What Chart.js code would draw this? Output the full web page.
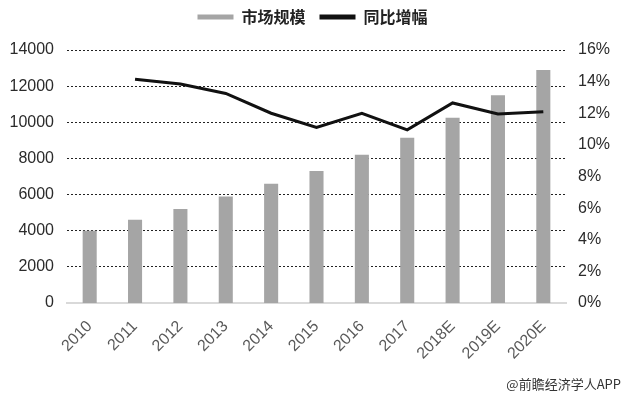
<!DOCTYPE html>
<html>
<head>
<meta charset="utf-8">
<script src="https://cdn.jsdelivr.net/npm/chart.js@4"></script>
<style>
  body { margin: 0; background: #fff; }
  #wrap { width: 625px; height: 395px; position: relative; }
</style>
</head>
<body>
<div id="wrap"><canvas id="myChart"></canvas></div>
<script>
// data
var years = ['2010', '2011', '2012', '2013', '2014', '2015', '2016', '2017', '2018E', '2019E', '2020E'];
var marketSize = [4000, 4600, 5200, 5900, 6600, 7300, 8200, 9150, 10250, 11500, 12900];
var yoyGrowth = [null, 14.15, 13.85, 13.25, 12.0, 11.1, 12.0, 10.95, 12.65, 11.95, 12.1];
var leftTicks = [0, 14000, 2000];
var rightTicks = [0, 16, 2];

var tickFont = { family: 'Liberation Sans, Arial, sans-serif', size: 16 };

// watermark
var sourceNote = {
  id: 'sourceNote',
  afterDraw: function(chart) {
    var c = chart.ctx;
    c.save();
    c.font = '13px "Noto Sans CJK SC", sans-serif';
    c.fillStyle = '#333';
    c.textAlign = 'right';
    c.textBaseline = 'alphabetic';
    c.fillText('@前瞻经济学人APP', 621, 389);
    c.restore();
  }
};

// more room under the legend
var legendGap = {
  id: 'legendGap',
  beforeInit: function(chart) {
    var fit = chart.legend.fit;
    chart.legend.fit = function() {
      fit.bind(chart.legend)();
      this.height += 15;
    };
  }
};

var ctx = document.getElementById('myChart').getContext('2d');
var myChart = new Chart(ctx, {
  type: 'bar',
  data: {
    labels: years,
    datasets: [{
      label: '市场规模',
      data: marketSize,
      backgroundColor: '#a5a5a5',
      barPercentage: 0.31,
      categoryPercentage: 1,
      yAxisID: 'y',
      order: 1
    }, {
      type: 'line',
      label: '同比增幅',
      data: yoyGrowth,
      borderColor: '#111',
      backgroundColor: '#111',
      borderWidth: 3,
      pointRadius: 0,
      tension: 0,
      yAxisID: 'y1',
      order: 0
    }]
  },
  options: {
    responsive: true,
    maintainAspectRatio: false,
    animation: false,
    layout: { padding: { top: -5, left: 0, right: 0, bottom: 0 } },
    plugins: {
      tooltip: { enabled: false },
      legend: {
        position: 'top',
        labels: {
          boxWidth: 36,
          boxHeight: 5,
          padding: 14,
          color: '#222',
          font: { family: '"Noto Sans CJK SC", sans-serif', size: 16, weight: 'bold' },
          sort: function(a, b) { return a.datasetIndex - b.datasetIndex; },
          generateLabels: function(chart) {
            var items = Chart.defaults.plugins.legend.labels.generateLabels(chart);
            items.forEach(function(it) { it.lineWidth = 0; });
            return items;
          }
        }
      }
    },
    scales: {
      x: {
        grid: { display: false },
        border: { color: '#d9d9d9', width: 2 },
        ticks: {
          color: '#595959',
          font: tickFont,
          maxRotation: 45, minRotation: 45, padding: 6
        },
        afterFit: function(s) { s.height = 92; }
      },
      y: {
        position: 'left',
        min: leftTicks[0],
        max: leftTicks[1],
        border: { display: true, width: 0, dash: [2, 2] },
        grid: {
          color: '#222',
          lineWidth: function(c) { return c.index === 0 ? 0 : 1; },
          borderDash: [2, 2],
          drawTicks: false
        },
        ticks: {
          stepSize: leftTicks[2],
          color: '#2b2b2b',
          font: tickFont,
          padding: 13,
          callback: function(value) { return String(value); }
        },
        afterFit: function(s) { s.width = 67; }
      },
      y1: {
        position: 'right',
        min: rightTicks[0],
        max: rightTicks[1],
        border: { display: false },
        grid: { display: false, drawTicks: false },
        ticks: {
          stepSize: rightTicks[2],
          color: '#2b2b2b',
          font: tickFont,
          padding: 12,
          callback: function(value) { return value + '%'; }
        },
        afterFit: function(s) { s.width = 59; }
      }
    }
  },
  plugins: [sourceNote, legendGap]
});
</script>
</body>
</html>
